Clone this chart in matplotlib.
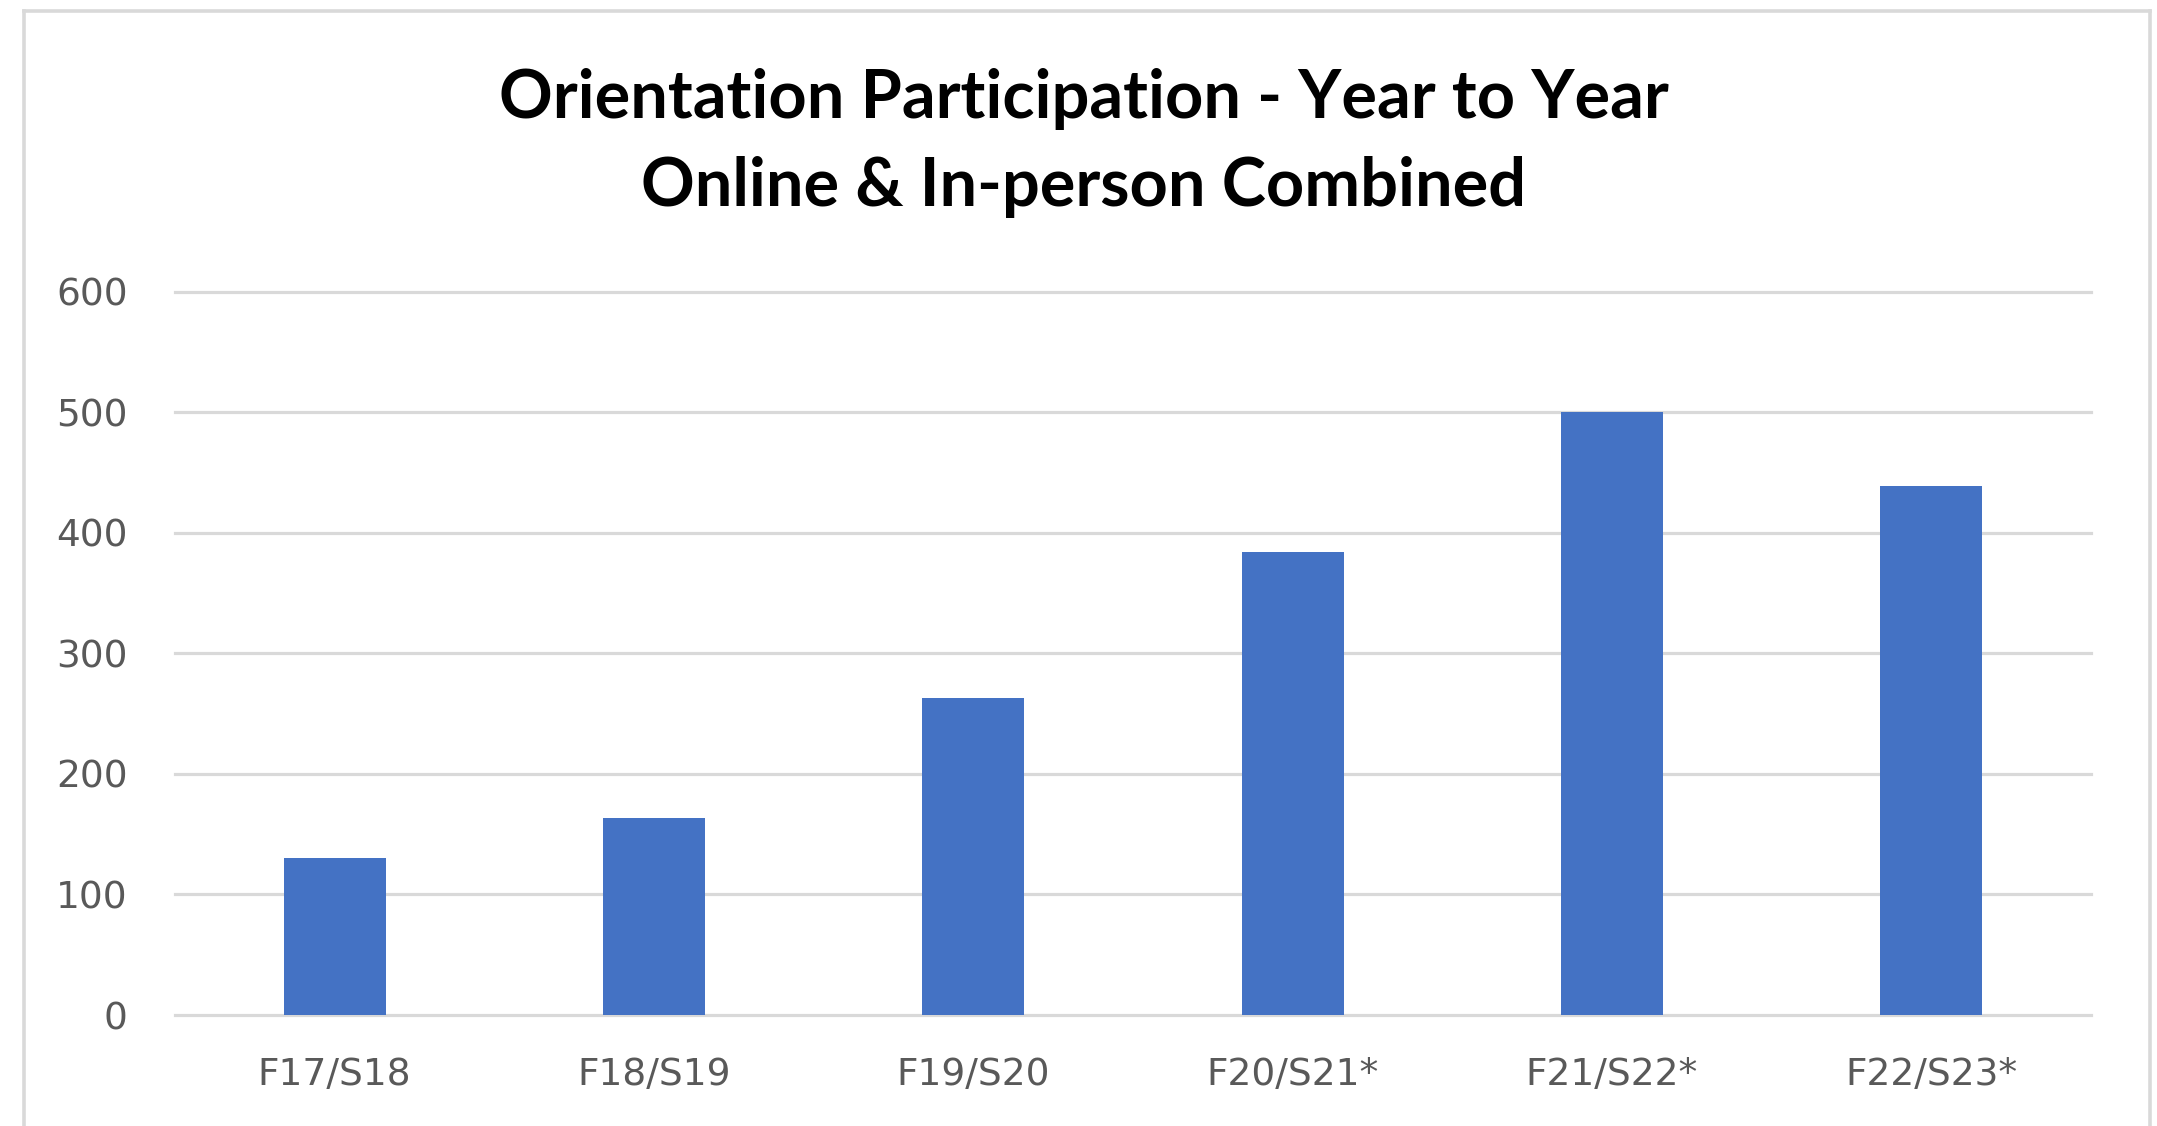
import matplotlib
matplotlib.use("Agg")
from matplotlib import pyplot as plt
from matplotlib.lines import Line2D

categories = ['F17/S18', 'F18/S19', 'F19/S20', 'F20/S21*', 'F21/S22*', 'F22/S23*']
participants = [130, 163, 263, 384, 500, 439]
y_ticks = [0, 100, 200, 300, 400, 500, 600]

W, H = 2157, 1126
fig = plt.figure(figsize=(W / 100, H / 100), dpi=100)
ax = fig.add_axes([175 / W, 1 - 1015 / H, (2091 - 175) / W, (1015 - 291.6) / H])

ax.bar(range(len(categories)), participants, width=0.32, color='#4472C4', zorder=3)
ax.set_xlim(-0.5, len(categories) - 0.5)
ax.set_ylim(0, 600)
ax.set_yticks(y_ticks)
ax.set_xticks(range(len(categories)))
ax.set_xticklabels(categories)

for s in ax.spines.values():
    s.set_visible(False)
ax.tick_params(axis='both', length=0, labelsize=27, labelcolor='#595959')
ax.tick_params(axis='y', pad=34)
ax.tick_params(axis='x', pad=30)
ax.yaxis.grid(True, color='#d9d9d9', linewidth=2.3, zorder=0)
for gl in ax.get_ygridlines():
    gl.set_clip_on(False)

fig.text(0.5025, 1 - 118 / H, 'Orientation Participation - Year to Year',
         ha='center', va='baseline', fontsize=48, fontweight='bold',
         family='Lato', color='black')
fig.text(0.5025, 1 - 206 / H, 'Online & In-person Combined',
         ha='center', va='baseline', fontsize=48, fontweight='bold',
         family='Lato', color='black')

# light frame around the chart area (bottom edge runs off the image)
frame = dict(color='#d9d9d9', linewidth=2.6, transform=fig.transFigure)
fig.add_artist(Line2D([24 / W, 24 / W], [0, 1 - 11 / H], **frame))
fig.add_artist(Line2D([24 / W, 2150 / W], [1 - 11 / H, 1 - 11 / H], **frame))
fig.add_artist(Line2D([2150 / W, 2150 / W], [0, 1 - 11 / H], **frame))

fig.savefig('out.png', dpi=100)
